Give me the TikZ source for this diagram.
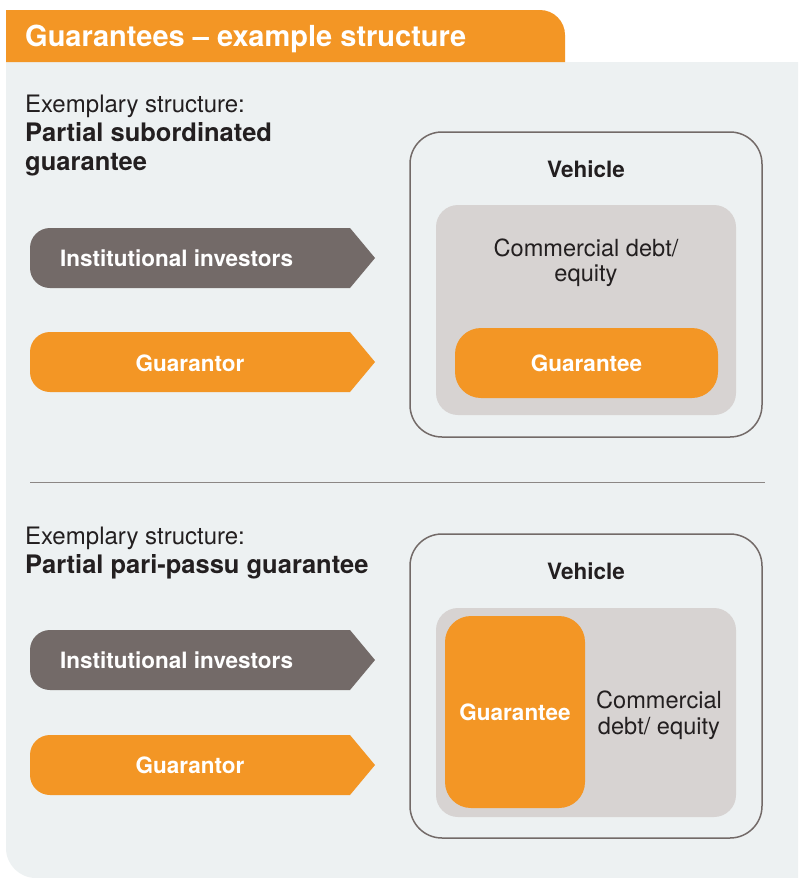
\documentclass[tikz,border=0pt]{standalone}
\usepackage{fontspec}
\setmainfont{TeX Gyre Heros}
\usepackage{xcolor}
\usepackage{tikz}
\definecolor{brandorange}{HTML}{F39625}
\definecolor{taupe}{HTML}{736A68}
\definecolor{panelgray}{HTML}{EDF1F2}
\definecolor{innergray}{HTML}{D7D3D2}
\definecolor{inkdark}{HTML}{231F20}
\definecolor{rulegray}{HTML}{8C8785}
\def\tipx{375}
\newcommand{\headbold}[1]{{\fontsize{25.5}{29}\selectfont\bfseries #1}}

\begin{document}
\begin{tikzpicture}[x=1pt,y=-1pt]
    \tikzstyle{boldtext}=[font=\fontsize{22.5}{25}\selectfont\bfseries, inner sep=0pt]
    \tikzstyle{plaintext}=[font=\fontsize{23.6}{25.5}\selectfont, inner sep=0pt, text=inkdark]
    \tikzstyle{heading}=[font=\fontsize{24}{29}\selectfont, inner sep=0pt, text=inkdark, align=left]
    \tikzstyle{vehicle box}=[draw=taupe, line width=1.5pt, rounded corners=32pt]
    \tikzstyle{inner box}=[fill=innergray, rounded corners=22pt]
    \tikzstyle{guarantee box}=[fill=brandorange, rounded corners=26pt]

    % Page and panel
    \fill[white] (0,0) rectangle (798,878);
    \useasboundingbox (0,0) rectangle (798,878);
    \fill[panelgray] (798,62) -- (6,62) -- (6,848)
        arc[start angle=180, end angle=90, radius=30] -- (798,878) -- cycle;

    % Header tab
    \fill[brandorange] (6,62) -- (6,10) -- (540,10)
        arc[start angle=-90, end angle=0, radius=25] -- (565,62) -- cycle;
    \node[font=\fontsize{29}{32}\selectfont\bfseries, text=white, inner sep=0pt,
          anchor=base west] (title) at (25,46) {Guarantees – example structure};

    % Arrow shapes for investors and guarantor
    \foreach \cy/\col in {258/taupe, 362/brandorange, 660/taupe, 765/brandorange}
        \fill[\col] (50,\cy-30) -- (350,\cy-30) -- (\tipx,\cy) -- (350,\cy+30) -- (50,\cy+30)
            arc[start angle=90, end angle=180, radius=20] -- (30,\cy-10)
            arc[start angle=180, end angle=270, radius=20] -- cycle;

    % Upper structure
    \node[heading, anchor=base west] (head1) at (25,170)
        {Exemplary structure:\\\headbold{Partial subordinated}\\\headbold{guarantee}};
    \node[boldtext, text=white, anchor=west] (inv1) at (60,258) {Institutional investors};
    \node[boldtext, text=white] (gtor1) at (190,363) {Guarantor};

    \node[vehicle box, minimum width=352pt, minimum height=305pt] (veh1) at (586,284.5) {};
    \node[boldtext, text=inkdark] (vlab1) at (586,169) {Vehicle};
    \node[inner box, minimum width=300pt, minimum height=210pt] (debt1) at (586,310) {};
    \node[plaintext, align=center] (dlab1) at (586,263) {Commercial debt/\\equity};
    \node[guarantee box, minimum width=263pt, minimum height=70pt] (guar1) at (586.5,363) {};
    \node[boldtext, text=white] (glab1) at (guar1) {Guarantee};

    % Separator
    \coordinate (sepL) at (30,482);
    \coordinate (sepR) at (765,482);
    \draw[rulegray, line width=0.8pt] (sepL) -- (sepR);

    % Lower structure
    \node[heading, anchor=base west] (head2) at (25,573)
        {Exemplary structure:\\\headbold{Partial pari-passu guarantee}};
    \node[boldtext, text=white, anchor=west] (inv2) at (60,660) {Institutional investors};
    \node[boldtext, text=white] (gtor2) at (190,765) {Guarantor};

    \node[vehicle box, minimum width=352pt, minimum height=304pt] (veh2) at (586,686) {};
    \node[boldtext, text=inkdark] (vlab2) at (586,571) {Vehicle};
    \node[inner box, minimum width=300pt, minimum height=209pt] (debt2) at (586,712.5) {};
    \node[guarantee box, minimum width=140pt, minimum height=192pt] (guar2) at (515,712) {};
    \node[boldtext, text=white] (glab2) at (guar2) {Guarantee};
    \node[plaintext, align=center] (dlab2) at (659,715) {Commercial\\debt/ equity};
\end{tikzpicture}
\end{document}
